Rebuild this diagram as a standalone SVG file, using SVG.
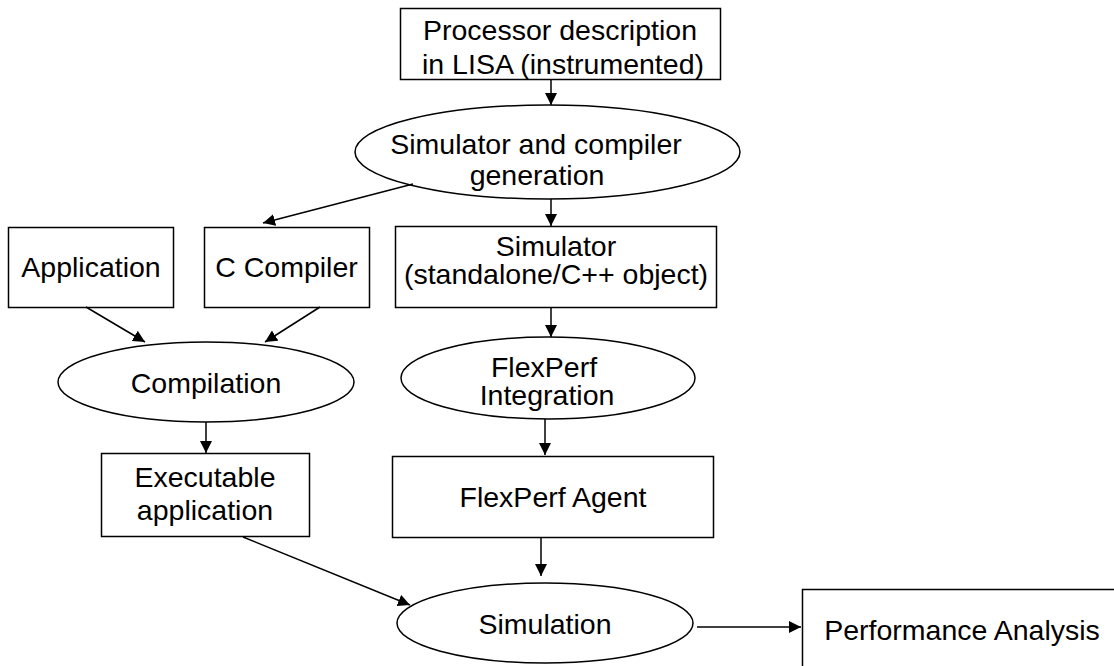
<svg xmlns="http://www.w3.org/2000/svg" width="1114" height="666" viewBox="0 0 1114 666">
<defs>
<marker id="ah" markerUnits="userSpaceOnUse" markerWidth="12" markerHeight="12" viewBox="0 0 12 12" refX="12" refY="6" orient="auto">
<path d="M0,0 L12,6 L0,12 z" fill="#000"/>
</marker>
<style>
.s{fill:#fff;stroke:#000;stroke-width:1.5}
.t{font-family:"Liberation Sans",Arial,sans-serif;font-size:28.5px;fill:#000;text-anchor:middle}
.c line{stroke:#000;stroke-width:1.5;marker-end:url(#ah)}
</style>
</defs>
<rect width="1114" height="666" fill="#fff"/>
<g id="processor">
<rect class="s" x="400.5" y="8.5" width="320" height="71"/>
<text class="t" x="560" y="40">Processor description</text>
<text class="t" x="563" y="74">in LISA (instrumented)</text>
</g>
<g id="simgen">
<ellipse class="s" cx="547.5" cy="152" rx="192.5" ry="47"/>
<text class="t" x="536" y="154">Simulator and compiler</text>
<text class="t" x="537" y="185">generation</text>
</g>
<g id="application">
<rect class="s" x="8.5" y="227.5" width="165" height="80"/>
<text class="t" x="91" y="277">Application</text>
</g>
<g id="ccompiler">
<rect class="s" x="204.5" y="227.5" width="165" height="80"/>
<text class="t" x="286.5" y="277">C Compiler</text>
</g>
<g id="simulator">
<rect class="s" x="395.5" y="226.5" width="321" height="81"/>
<text class="t" x="556" y="256">Simulator</text>
<text class="t" x="556" y="284">(standalone/C++ object)</text>
</g>
<g id="compilation">
<ellipse class="s" cx="206" cy="382" rx="148" ry="40"/>
<text class="t" x="206" y="393">Compilation</text>
</g>
<g id="flexperfint">
<ellipse class="s" cx="548" cy="378" rx="147" ry="41"/>
<text class="t" x="544" y="377">FlexPerf</text>
<text class="t" x="547" y="405">Integration</text>
</g>
<g id="executable">
<rect class="s" x="101.5" y="453.5" width="208" height="83"/>
<text class="t" x="205" y="487">Executable</text>
<text class="t" x="205" y="520">application</text>
</g>
<g id="agent">
<rect class="s" x="392.5" y="456.5" width="321" height="81"/>
<text class="t" x="553" y="507">FlexPerf Agent</text>
</g>
<g id="simulation">
<ellipse class="s" cx="545" cy="623" rx="148" ry="40"/>
<text class="t" x="545" y="634">Simulation</text>
</g>
<g id="performance">
<rect class="s" x="802.5" y="589.5" width="330" height="100"/>
<text class="t" x="962" y="640">Performance Analysis</text>
</g>
<g id="connectors" class="c">
<line x1="551" y1="80" x2="551" y2="105"/>
<line x1="413" y1="184" x2="263" y2="223"/>
<line x1="551" y1="199" x2="551" y2="226"/>
<line x1="86" y1="307" x2="145" y2="342"/>
<line x1="320" y1="307" x2="265" y2="342"/>
<line x1="551" y1="307" x2="551" y2="337"/>
<line x1="206" y1="422" x2="206" y2="453"/>
<line x1="545" y1="419" x2="545" y2="455"/>
<line x1="243" y1="537" x2="410" y2="605"/>
<line x1="541" y1="537" x2="541" y2="576"/>
<line x1="697" y1="627" x2="801" y2="627"/>
</g>
</svg>
